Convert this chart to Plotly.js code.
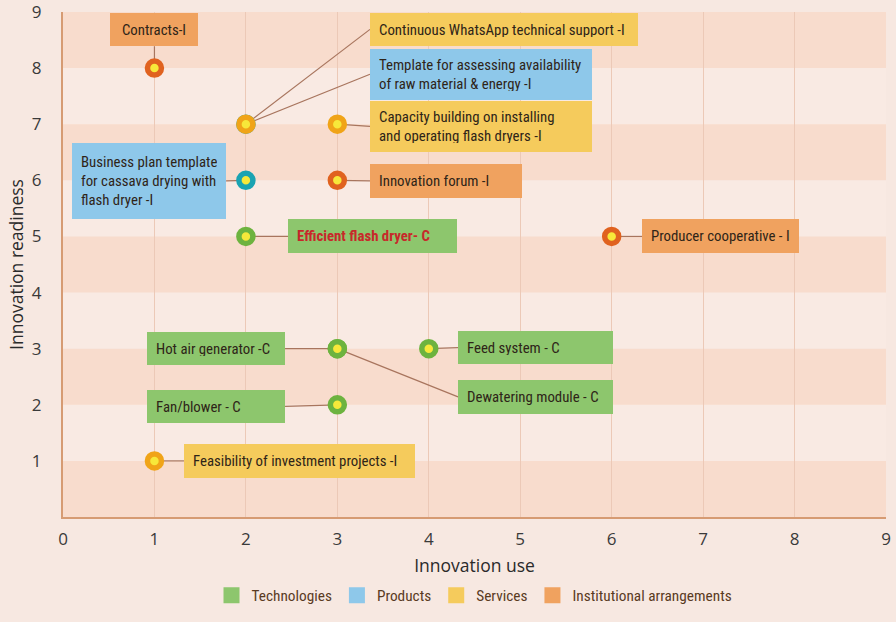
<!DOCTYPE html>
<html>
<head>
<meta charset="utf-8">
<script src="https://cdn.plot.ly/plotly-3.0.1.min.js"></script>
<style>
  html, body { margin: 0; padding: 0; background: #f7e8e1; }
  #chart { width: 896px; height: 622px; }
</style>
<style id="stretchRule"></style>
</head>
<body>
<div id="chart"></div>
<script>
// ---- data ----
const categories = ['Technologies', 'Products', 'Services', 'Institutional arrangements'];
const innovations = [
  'Contracts-I',
  'Continuous WhatsApp technical support -I',
  'Template for assessing availability<br>of raw material & energy -I',
  'Capacity building on installing<br>and operating flash dryers -I',
  'Business plan template<br>for cassava drying with<br>flash dryer -I',
  'Innovation forum -I',
  'Efficient flash dryer- C',
  'Producer cooperative - I',
  'Hot air generator -C',
  'Feed system - C',
  'Dewatering module - C',
  'Fan/blower - C',
  'Feasibility of investment projects -I'
];
const innovationUse       = [1, 2, 2, 3, 2, 3, 2, 6, 3, 4, 3, 3, 1];
const innovationReadiness = [8, 7, 7, 7, 6, 6, 5, 5, 3, 3, 3, 2, 1];
const innovationType = [
  'Institutional arrangements', 'Services', 'Products', 'Services', 'Products',
  'Institutional arrangements', 'Technologies', 'Institutional arrangements',
  'Technologies', 'Technologies', 'Technologies', 'Technologies', 'Services'
];
const xTicks = [0, 1, 2, 3, 4, 5, 6, 7, 8, 9];
const yTicks = [1, 2, 3, 4, 5, 6, 7, 8, 9];

// ---- styling / label layout (not data) ----
const boxColor  = { 'Technologies': '#8dc66d', 'Products': '#8ec8ea', 'Services': '#f5cb5c', 'Institutional arrangements': '#f0a25f' };
const ringColor = { 'Technologies': '#6db33f', 'Products': '#1aa3b2', 'Services': '#f0a418', 'Institutional arrangements': '#e0621f' };
const labelLayout = [
  { x: 1.0,   y: 8.39, side: 'bottom', w: 88,  h: 33 },
  { x: 3.357, y: 8.69, side: 'left',   w: 268, h: 33 },
  { x: 3.357, y: 7.89, side: 'left',   w: 222, h: 51 },
  { x: 3.357, y: 6.96, side: 'left',   w: 222, h: 51 },
  { x: 1.783, y: 5.99, side: 'right',  w: 154, h: 76 },
  { x: 3.357, y: 5.99, side: 'left',   w: 152, h: 34 },
  { x: 2.461, y: 5.0,  side: 'left',   w: 169, h: 34 },
  { x: 6.335, y: 5.0,  side: 'left',   w: 157, h: 34 },
  { x: 2.428, y: 3.0,  side: 'right',  w: 138, h: 33 },
  { x: 4.32,  y: 3.02, side: 'left',   w: 155, h: 33 },
  { x: 4.32,  y: 2.14, side: 'left',   w: 155, h: 34 },
  { x: 2.428, y: 1.97, side: 'right',  w: 138, h: 33 },
  { x: 1.323, y: 1.0,  side: 'left',   w: 231, h: 34 }
];
const PAD = 9;

// pick a condensed font that is installed, closest in width to the reference lettering
const sample = 'Continuous WhatsApp technical support -I';
const targetWidth = 246;
function measure(family, stretch) {
  const s = document.createElement('span');
  s.style.cssText = 'position:absolute;visibility:hidden;white-space:nowrap;font-size:15px;font-family:' + family + ';font-stretch:' + stretch;
  s.textContent = sample;
  document.body.appendChild(s);
  const w = s.getBoundingClientRect().width;
  s.remove();
  return w;
}
const monoW = measure('monospace', 'normal');
const candidates = [
  { family: "'Liberation Sans Narrow'", stretch: 'normal' },
  { family: "'DejaVu Sans Condensed'", stretch: 'normal' },
  { family: "'DejaVu Sans'", stretch: 'condensed' },
  { family: "'Noto Sans'", stretch: 'condensed' },
  { family: "'Noto Sans'", stretch: 'extra-condensed' },
  { family: "'Open Sans'", stretch: 'condensed' },
  { family: "'Roboto'", stretch: 'condensed' },
  { family: "'Liberation Sans'", stretch: 'normal' }
];
let best = null;
candidates.forEach(c => {
  const w = measure(c.family + ', monospace', c.stretch);
  if (Math.abs(w - monoW) < 0.5) return;
  c.w = w;
  if (!best || Math.abs(w - targetWidth) < Math.abs(best.w - targetWidth)) best = c;
});
if (!best) best = { family: 'sans-serif', stretch: 'normal', w: measure('sans-serif', 'normal') };
const labelFont = best.family + ', sans-serif';
let labelSize = 15 * targetWidth / best.w;
labelSize = Math.max(12.5, Math.min(16, labelSize));
document.getElementById('stretchRule').textContent =
  '.annotation-text, .legendtext { font-stretch: ' + best.stretch + ' !important; }';

const traces = [];

// connectors
const cx = [], cy = [];
innovations.forEach((n, i) => {
  cx.push(innovationUse[i], labelLayout[i].x, null);
  cy.push(innovationReadiness[i], labelLayout[i].y, null);
});
traces.push({
  type: 'scatter', mode: 'lines', x: cx, y: cy,
  line: { color: '#a8755e', width: 1.2 },
  hoverinfo: 'skip', showlegend: false, cliponaxis: false
});

// markers per category
categories.forEach(cat => {
  const xs = [], ys = [];
  innovations.forEach((n, i) => {
    if (innovationType[i] === cat) { xs.push(innovationUse[i]); ys.push(innovationReadiness[i]); }
  });
  traces.push({
    type: 'scatter', mode: 'markers', x: xs, y: ys,
    marker: { size: 14, color: '#f7e83a', line: { color: ringColor[cat], width: 5.5 } },
    showlegend: false, hoverinfo: 'skip', cliponaxis: false
  });
});

// legend entries
categories.forEach(cat => {
  traces.push({
    type: 'scatter', mode: 'markers', x: [null], y: [null], name: cat,
    marker: { symbol: 'square', size: 16, color: boxColor[cat] },
    showlegend: true
  });
});

// label annotations
const annotations = innovations.map((n, i) => {
  const L = labelLayout[i];
  const isKey = n.indexOf('Efficient') === 0;
  return {
    x: L.x, y: L.y, xref: 'x', yref: 'y',
    xanchor: L.side === 'left' ? 'left' : (L.side === 'right' ? 'right' : 'center'),
    yanchor: L.side === 'bottom' ? 'bottom' : 'middle',
    showarrow: false,
    text: isKey ? '<b>' + n + '</b>' : n,
    width: L.w - 2 * PAD, height: L.h - 2 * PAD,
    borderpad: PAD, borderwidth: 0,
    align: L.side === 'bottom' ? 'center' : 'left', valign: 'middle',
    bgcolor: boxColor[innovationType[i]],
    font: { family: labelFont, size: labelSize, color: isKey ? '#c8282a' : '#2e2418' }
  };
});

// background bands
const shapes = [];
for (let k = 0; k < 9; k += 2) {
  shapes.push({
    type: 'rect', xref: 'x', yref: 'y', x0: 0, x1: 9, y0: k, y1: k + 1,
    fillcolor: '#f8dccd', line: { width: 0 }, layer: 'below'
  });
}

const layout = {
  width: 896, height: 622,
  margin: { l: 63, r: 10, t: 12, b: 92 },
  paper_bgcolor: '#f7e8e1',
  plot_bgcolor: '#f9eae3',
  font: { family: "'Open Sans', sans-serif", color: '#333' },
  showlegend: true,
  legend: {
    orientation: 'h', x: 0.5, xanchor: 'center', y: -0.155, yanchor: 'middle',
    font: { family: labelFont, size: labelSize + 0.5, color: '#5a3b1f' },
    bgcolor: 'rgba(0,0,0,0)', itemwidth: 30, tracegroupgap: 0
  },
  xaxis: {
    range: [0, 9], tickvals: xTicks, ticktext: xTicks.map(String),
    showgrid: true, gridcolor: '#ecc9b7', gridwidth: 1,
    showline: true, linecolor: '#d69b73', linewidth: 2,
    zeroline: false, ticks: '', ticklabelstandoff: 6, ticklabeloverflow: 'allow',
    tickfont: { family: "'Open Sans', sans-serif", size: 17, color: '#3a3a3a' },
    title: { text: 'Innovation use', font: { family: "'Open Sans', sans-serif", size: 17.5, color: '#2a2a2a' }, standoff: 10 },
    fixedrange: true
  },
  yaxis: {
    range: [0, 9], tickvals: yTicks, ticktext: yTicks.map(String),
    showgrid: false,
    showline: true, linecolor: '#d69b73', linewidth: 2,
    zeroline: false, ticks: '', ticklabelstandoff: 16, ticklabeloverflow: 'allow',
    tickfont: { family: "'Open Sans', sans-serif", size: 17, color: '#3a3a3a' },
    title: { text: 'Innovation readiness', font: { family: "'Open Sans', sans-serif", size: 17.5, color: '#2a2a2a' }, standoff: 4 },
    fixedrange: true
  },
  shapes: shapes,
  annotations: annotations
};

Plotly.newPlot('chart', traces, layout, { displayModeBar: false, staticPlot: true });
</script>
</body>
</html>
